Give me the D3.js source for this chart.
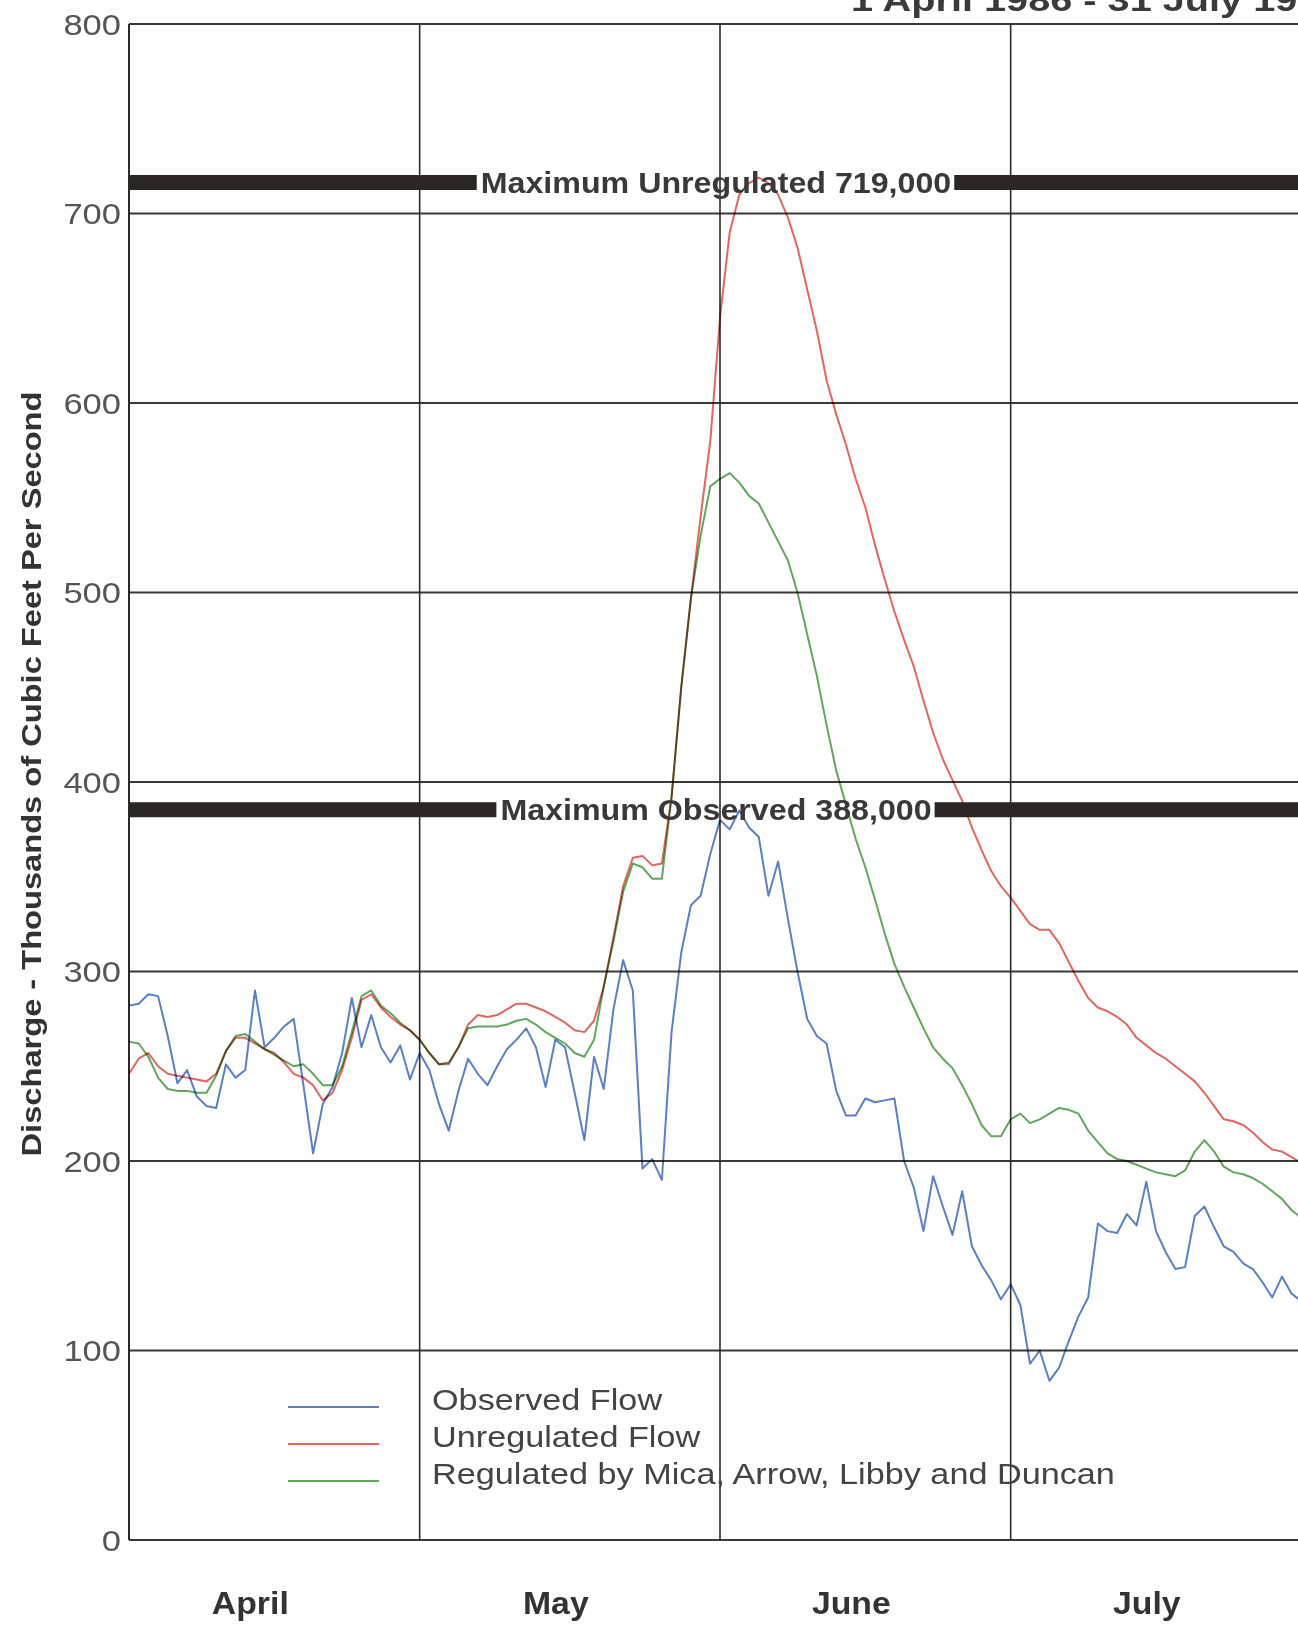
<!DOCTYPE html>
<html>
<head>
<meta charset="utf-8">
<script src="https://cdn.jsdelivr.net/npm/d3@7"></script>
<style>
  body { margin: 0; background: #fff; }
  svg { display: block; font-family: "Liberation Sans", Arial, Helvetica, sans-serif; }
</style>
</head>
<body>
<svg id="chart" width="1298" height="1627"></svg>
<script>
const title = "1 April 1986 - 31 July 1986";
const yTitle = "Discharge - Thousands of Cubic Feet Per Second";
const months = ["April", "May", "June", "July"];
const yTicks = [0, 100, 200, 300, 400, 500, 600, 700, 800];

// daily flows from 1 April, thousands of cfs
const observed = [
  282, 283, 288, 287, 266, 241, 248, 234, 229, 228,
  251, 244, 248, 290, 260, 265, 271, 275, 240, 204,
  230, 239, 257, 286, 260, 277, 260, 252, 261, 243,
  257, 248, 230, 216, 237, 254, 246, 240, 250, 259,
  264, 270, 260, 239, 264, 260, 236, 211, 255, 238,
  280, 306, 290, 196, 201, 190, 268, 310, 335, 340,
  362, 380, 375, 385, 376, 371, 340, 358, 328, 300,
  275, 266, 262, 237, 224, 224, 233, 231, 232, 233,
  200, 186, 163, 192, 176, 161, 184, 155, 145, 137,
  127, 135, 124, 93, 100, 84, 91, 105, 118, 128,
  167, 163, 162, 172, 166, 189, 163, 152, 143, 144,
  171, 176, 165, 155, 152, 146, 143, 136, 128, 139, 130, 126
];
const unregulated = [
  246, 254, 257, 250, 246, 245, 244, 243, 242, 246,
  258, 265, 265, 262, 259, 257, 252, 246, 244, 240,
  232, 236, 248, 265, 285, 288, 281, 276, 272, 269,
  264, 257, 251, 252, 260, 272, 277, 276, 277, 280,
  283, 283, 281, 279, 276, 273, 269, 268, 274, 292,
  318, 345, 360, 361, 356, 357, 392, 450, 497, 540,
  580, 645, 690, 710, 716, 719, 716, 710, 698, 682,
  660, 638, 612, 594, 578, 560, 545, 525, 507, 490,
  475, 461, 443, 426, 412, 401, 390, 376, 364, 353,
  345, 339, 332, 325, 322, 322, 315, 305, 295, 286,
  281, 279, 276, 272, 265, 261, 257, 254, 250, 246,
  242, 236, 229, 222, 221, 219, 215, 210, 206, 205, 202, 199
];
const regulated = [
  263, 262, 255, 244, 238, 237, 237, 236, 236, 245,
  258, 266, 267, 263, 259, 256, 253, 250, 251, 246,
  240, 240, 250, 268, 287, 290, 282, 278, 273, 269,
  264, 257, 251, 251, 260, 270, 271, 271, 271, 272,
  274, 275, 272, 268, 265, 262, 257, 255, 264, 292,
  316, 342, 357, 355, 349, 349, 392, 450, 497, 530,
  556, 560, 563, 558, 551, 547, 537, 527, 517, 500,
  478, 456, 430, 406, 388, 370, 355, 338, 320, 304,
  292, 281, 270, 260, 254, 249, 240, 230, 219, 213,
  213, 222, 225, 220, 222, 225, 228, 227, 225, 216,
  210, 204, 201, 200, 198, 196, 194, 193, 192, 195,
  205, 211, 205, 197, 194, 193, 191, 188, 184, 180, 174, 170
];

const maxMarks = [
  { label: "Maximum Unregulated 719,000", value: 719 },
  { label: "Maximum Observed 388,000", value: 388 }
];
const series = [
  { name: "Observed Flow", values: observed, color: "#5b80c6" },
  { name: "Unregulated Flow", values: unregulated, color: "#e3675f" },
  { name: "Regulated by Mica, Arrow, Libby and Duncan", values: regulated, color: "#62a85c" }
];

const W = 1298;
const start = new Date(1986, 3, 1);
const end = new Date(1986, 7, 1);

const svg = d3.select("#chart");
const x = d3.scaleTime().domain([start, end]).range([129, 1311]);
const y = d3.scaleLinear().domain([0, 800]).range([1540, 24]);

// the scanned lettering is wider than the installed sans fonts
function stretch(sel, k) {
  sel.each(function () {
    const len = this.getComputedTextLength();
    d3.select(this).attr("textLength", len * k).attr("lengthAdjust", "spacingAndGlyphs");
  });
}

// horizontal grid
svg.append("g")
  .selectAll("line")
  .data(yTicks)
  .join("line")
  .attr("x1", x(start)).attr("x2", W)
  .attr("y1", d => y(d)).attr("y2", d => y(d))
  .attr("stroke", "#3b3836").attr("stroke-width", 2);

// month lines
const monthStarts = d3.timeMonth.range(start, end);
svg.append("g")
  .selectAll("line")
  .data(monthStarts)
  .join("line")
  .attr("x1", d => x(d)).attr("x2", d => x(d))
  .attr("y1", y(800)).attr("y2", y(0))
  .attr("stroke", "#2a2a2a").attr("stroke-width", d => d.getTime() === start.getTime() ? 2 : 1.6);

// tick labels
svg.append("g")
  .selectAll("text")
  .data(yTicks)
  .join("text")
  .attr("x", x(start) - 8)
  .attr("y", d => y(d))
  .attr("dy", "0.36em")
  .attr("text-anchor", "end")
  .attr("font-size", 30)
  .attr("fill", "#555")
  .text(d => d)
  .call(stretch, 1.15);

// month labels
svg.append("g")
  .selectAll("text")
  .data(monthStarts)
  .join("text")
  .attr("x", (d, i) => (x(d) + x(d3.timeMonth.offset(d, 1))) / 2 - (i === 0 ? 24 : 14))
  .attr("y", 1614)
  .attr("text-anchor", "middle")
  .attr("font-size", 31)
  .attr("font-weight", "bold")
  .attr("fill", "#333")
  .text((d, i) => months[i])
  .call(stretch, 1.09);

// y axis title
svg.append("text")
  .attr("transform", `translate(41,${(y(0) + y(800)) / 2 - 8}) rotate(-90)`)
  .attr("text-anchor", "middle")
  .attr("font-size", 28)
  .attr("font-weight", "bold")
  .attr("fill", "#333")
  .text(yTitle)
  .call(stretch, 1.165);

// title, cut off by the top edge
svg.append("text")
  .attr("x", 851).attr("y", 11)
  .attr("font-size", 31)
  .attr("font-weight", "bold")
  .attr("fill", "#3a3a3a")
  .text(title)
  .call(stretch, 1.28);

// flow lines
const line = d3.line()
  .x((d, i) => x(d3.timeDay.offset(start, i)))
  .y(d => y(d));

svg.append("g")
  .selectAll("path")
  .data(series)
  .join("path")
  .attr("d", d => line(d.values))
  .attr("fill", "none")
  .attr("stroke", d => d.color)
  .attr("stroke-width", 2)
  .attr("stroke-linejoin", "round")
  .style("mix-blend-mode", "multiply");

// maximum bars with labels
const junePos = x(new Date(1986, 5, 1)) - 4;
maxMarks.forEach(m => {
  const cy = y(m.value) + 5;
  const g = svg.append("g");
  const t = g.append("text")
    .attr("x", junePos)
    .attr("y", cy)
    .attr("dy", "0.36em")
    .attr("text-anchor", "middle")
    .attr("font-size", 29)
    .attr("font-weight", "bold")
    .attr("fill", "#3a3838")
    .text(m.label);
  const len = t.node().getComputedTextLength() * 1.11;
  t.attr("textLength", len).attr("lengthAdjust", "spacingAndGlyphs");
  const left = junePos - len / 2 - 4;
  const right = junePos + len / 2 + 3;
  g.insert("rect", "text")
    .attr("x", x(start)).attr("y", cy - 7.5)
    .attr("width", left - x(start)).attr("height", 15)
    .attr("fill", "#2b2624");
  g.insert("rect", "text")
    .attr("x", right).attr("y", cy - 7.5)
    .attr("width", W - right).attr("height", 15)
    .attr("fill", "#2b2624");
});

// legend
const legend = svg.append("g")
  .selectAll("g")
  .data(series)
  .join("g")
  .attr("transform", (d, i) => `translate(0,${1405 + i * 37})`);

legend.append("line")
  .attr("x1", 288).attr("x2", 379)
  .attr("y1", 2).attr("y2", 2)
  .attr("stroke", d => d.color)
  .attr("stroke-width", 2);

legend.append("text")
  .attr("x", 432).attr("y", -5)
  .attr("dy", "0.36em")
  .attr("font-size", 29)
  .attr("fill", "#444")
  .text(d => d.name)
  .call(stretch, 1.18);
</script>
</body>
</html>
